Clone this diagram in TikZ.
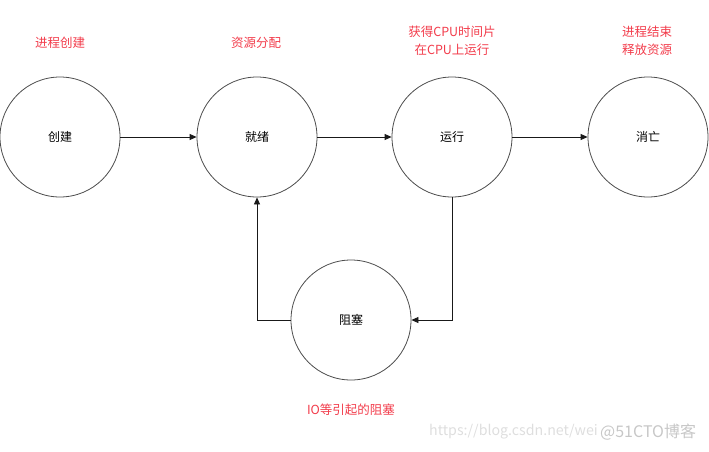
\documentclass[tikz,border=0pt]{standalone}
\usepackage{fontspec}
\setmainfont{Noto Sans CJK SC}
\usetikzlibrary{arrows.meta}
\definecolor{lbl}{HTML}{F23C4B}
\begin{document}
\begin{tikzpicture}[x=1pt,y=-1pt,
  state/.style={circle,draw=black!70,line width=0.8pt,minimum size=120pt,inner sep=0pt,font=\fontsize{12}{14}\selectfont},
  lab/.style={text=lbl,font=\fontsize{12.5}{18}\selectfont,align=center},
  conn/.style={draw=black!90,line width=0.8pt,-{Triangle[length=7pt,width=6pt]}},
  wm/.style={text=black!13,inner sep=0pt}]
\useasboundingbox (0,0) rectangle (709,451);
\node[state] (c) at (60,137) {创建};
\node[state] (r) at (257,137) {就绪};
\node[state] (u) at (452,137) {运行};
\node[state] (d) at (648,137) {消亡};
\node[state] (b) at (351,320) {阻塞};
\draw[conn] (c) -- (r);
\draw[conn] (r) -- (u);
\draw[conn] (u) -- (d);
\draw[conn] (u.south) |- (b.east);
\draw[conn] (b.west) -| (r.south);
\node[lab] (l1) at (60,43) {进程创建};
\node[lab] (l2) at (256,43) {资源分配};
\node[lab] (l3) at (452,41) {获得CPU时间片\\在CPU上运行};
\node[lab] (l4) at (647,41) {进程结束\\释放资源};
\node[lab] (l5) at (351,410) {IO等引起的阻塞};
\node[wm,anchor=west,font=\fontsize{14.2}{16}\selectfont] (w1) at (429,432) {https://blog.csdn.net/wei};
\node[wm,anchor=west,text=black!22,font=\fontsize{16}{18}\selectfont] (w2) at (600,432) {@51CTO博客};
\end{tikzpicture}
\end{document}
